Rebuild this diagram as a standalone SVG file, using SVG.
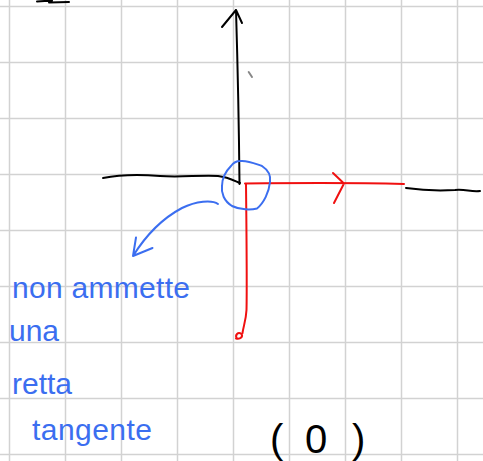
<svg xmlns="http://www.w3.org/2000/svg" width="483" height="461" viewBox="0 0 483 461">
<style>
.grid line{stroke:#d2d2d2;stroke-width:1.5}
.ink{fill:none;stroke-linecap:round;stroke-linejoin:round;stroke-width:2}
.k{stroke:#000}
.r{stroke:#f01010}
.b{stroke:#3b6ef0}
.hand{font-family:"Liberation Sans","DejaVu Sans",sans-serif;fill:#3b6ef0;font-size:30px}
.handk{font-family:"Liberation Sans","DejaVu Sans",sans-serif;fill:#000;font-size:40px;font-weight:300}
</style>
<rect width="483" height="461" fill="#fff"/>
<g class="grid" id="grid">
<line x1="9.5" y1="0" x2="9.5" y2="461"/><line x1="65.5" y1="0" x2="65.5" y2="461"/><line x1="121.5" y1="0" x2="121.5" y2="461"/><line x1="177.5" y1="0" x2="177.5" y2="461"/><line x1="233.5" y1="0" x2="233.5" y2="461"/><line x1="289.5" y1="0" x2="289.5" y2="461"/><line x1="345.5" y1="0" x2="345.5" y2="461"/><line x1="401.5" y1="0" x2="401.5" y2="461"/><line x1="457.5" y1="0" x2="457.5" y2="461"/>
<line x1="0" y1="6.5" x2="483" y2="6.5"/><line x1="0" y1="62.5" x2="483" y2="62.5"/><line x1="0" y1="118.5" x2="483" y2="118.5"/><line x1="0" y1="174.5" x2="483" y2="174.5"/><line x1="0" y1="230.5" x2="483" y2="230.5"/><line x1="0" y1="286.5" x2="483" y2="286.5"/><line x1="0" y1="342.5" x2="483" y2="342.5"/><line x1="0" y1="398.5" x2="483" y2="398.5"/><line x1="0" y1="454.5" x2="483" y2="454.5"/>
</g>
<g id="connectors">
<path class="ink k" d="M37,1.5 L52,0.5 M49,2.5 L69,2" stroke-width="3"/>
<path id="y-axis" class="ink k" d="M239.5,184 C239,130 237.5,60 236,10 M222,27 L236,10 L242,23"/>
<path class="ink" d="M248.7,72 L252,77" stroke="#888" stroke-width="1.5"/>
<path id="x-axis-left" class="ink k" d="M103,178 C118,175 135,174 160,176 C180,177.5 200,175 218,176 C228,177 235,181 240,183"/>
<path id="x-axis-right" class="ink k" d="M406,188 C420,190 438,191 455,190 C466,189 470,192 480,191"/>
<path id="red-h" class="ink r" d="M245,183.5 C290,183 350,182.5 404,184 M333,173 L344,183.5 L334,203"/>
<path id="red-v" class="ink r" d="M246,184 C246.5,230 247,290 246.5,310 C246,320 243.5,326 242.5,333"/>
<path class="ink r" d="M237,338.5 C234.5,335 238,331.5 241.5,334 C243,336.5 241,339.5 236,338.5 Z" fill="#f01010"/>
<path id="blue-arrow" class="ink b" d="M218,204 C212,199.5 196,201 182,208 C165,217 148,232 133,256 M136,237.5 L133,256 L152.5,248"/>
</g>
<g id="circle">
<path class="ink b" d="M240,161 C248,160 256,164 262,166 C268,170 271,176 270,182 C269,192 264,203 257,208.5 C251,210 240,210 232,206 C224,201 221,193 222,186 C222,178 226,171 231,166 C234,162 237,161 240,161 Z"/>
</g>
<g id="label">
<text class="hand" x="12" y="298" textLength="178" lengthAdjust="spacing">non ammette</text>
<text class="hand" x="9" y="341" font-size="34">una</text>
<text class="hand" x="12" y="394" font-size="33">retta</text>
<text class="hand" x="32" y="440" textLength="120" lengthAdjust="spacing">tangente</text>
</g>
<g id="origin-label">
<text class="handk" x="270" y="453">(</text>
<text class="handk" x="305" y="453" font-size="30">0</text>
<text class="handk" x="352" y="453">)</text>
</g>
</svg>
